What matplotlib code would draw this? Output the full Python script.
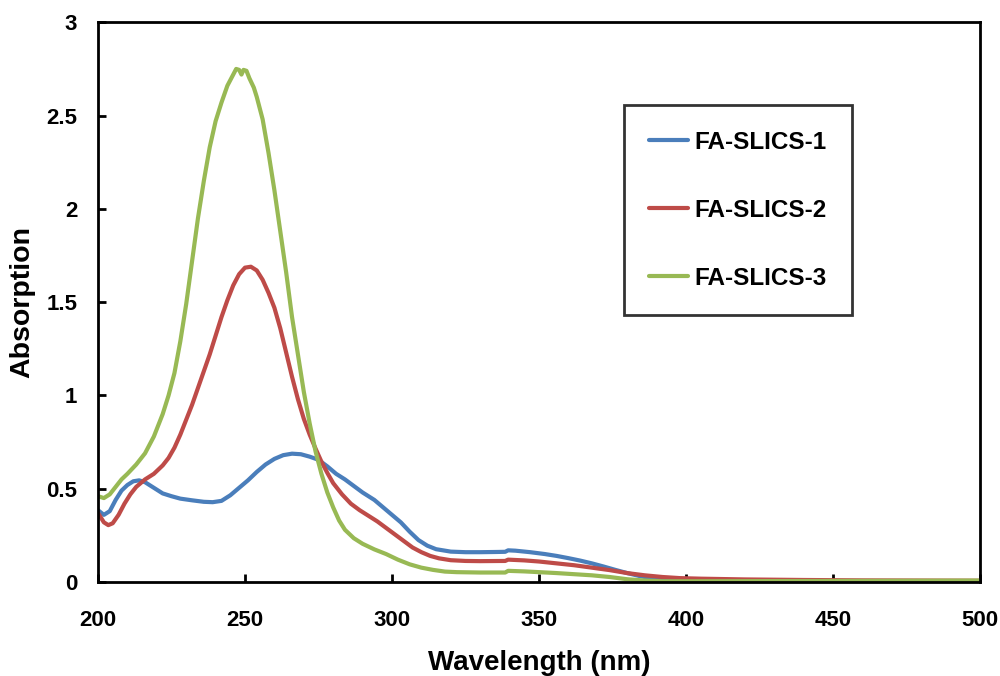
import matplotlib
matplotlib.use("Agg")
import matplotlib.pyplot as plt

plt.rcParams['font.family'] = ['Liberation Sans', 'DejaVu Sans']
plt.rcParams['font.weight'] = 'bold'

# UV-Vis absorption spectra
wl_1 = [200, 202, 204, 206, 208, 210, 212, 214, 216, 218, 220, 222, 225, 228, 232, 236, 239,
        242, 245, 248, 251, 254, 257, 260, 263, 266, 269, 272, 275, 278, 281, 284, 287, 290,
        294, 297, 300, 303, 306, 309, 312, 315, 320, 325, 330, 335, 338.5, 339.5, 342, 347,
        352, 356, 360, 364, 368, 372, 376, 380, 384, 388, 392, 396, 400, 420, 450, 500]
abs_1 = [0.385, 0.36, 0.38, 0.44, 0.49, 0.52, 0.54, 0.545, 0.535, 0.515, 0.495, 0.475, 0.46,
         0.447, 0.438, 0.43, 0.428, 0.435, 0.465, 0.505, 0.545, 0.59, 0.63, 0.66, 0.68, 0.688,
         0.685, 0.672, 0.655, 0.62, 0.58, 0.55, 0.515, 0.48, 0.44, 0.40, 0.36, 0.32, 0.27,
         0.225, 0.195, 0.176, 0.163, 0.16, 0.16, 0.161, 0.162, 0.17, 0.168, 0.16, 0.15, 0.14,
         0.128, 0.115, 0.10, 0.083, 0.065, 0.048, 0.033, 0.02, 0.01, 0.005, 0.003, 0.002,
         0.001, 0.001]

wl_2 = [200, 202, 203.5, 205, 207, 209, 211, 213, 216, 219, 222, 224, 226, 228, 230, 232, 234,
        236, 238, 240, 242, 244, 246, 248, 250, 252, 254, 256, 258, 260, 262, 264, 266, 268,
        270, 272, 274, 276, 278, 280, 283, 286, 289, 292, 295, 298, 301, 304, 307, 310, 313,
        316, 320, 325, 330, 338.5, 339.5, 345, 350, 356, 362, 368, 374, 380, 386, 392, 398,
        405, 420, 440, 460, 480, 500]
abs_2 = [0.37, 0.32, 0.305, 0.315, 0.36, 0.42, 0.47, 0.51, 0.55, 0.58, 0.625, 0.665, 0.72,
         0.79, 0.87, 0.95, 1.04, 1.13, 1.22, 1.32, 1.42, 1.51, 1.59, 1.65, 1.685, 1.69, 1.67,
         1.62, 1.55, 1.47, 1.36, 1.23, 1.10, 0.98, 0.875, 0.79, 0.715, 0.645, 0.585, 0.53,
         0.47, 0.42, 0.385, 0.355, 0.325, 0.29, 0.255, 0.22, 0.185, 0.16, 0.14, 0.127, 0.117,
         0.113, 0.112, 0.113, 0.12, 0.116, 0.11, 0.10, 0.09, 0.077, 0.064, 0.048, 0.036,
         0.027, 0.021, 0.018, 0.014, 0.011, 0.009, 0.008, 0.007]

wl_3 = [200, 202, 204, 206, 208, 210, 213, 216, 219, 222, 224, 226, 228, 230, 232, 234, 236,
        238, 240, 242, 244, 246, 247, 248, 248.8, 249.5, 250.5, 251.5, 253, 254, 256, 258, 260,
        262, 264, 266, 268, 270, 272, 274, 276, 278, 280, 282, 284, 287, 290, 294, 298, 302,
        306, 310, 314, 318, 322, 330, 338.5, 339.5, 345, 350, 356, 362, 368, 374, 380, 386,
        392, 400, 450, 500]
abs_3 = [0.46, 0.45, 0.47, 0.51, 0.55, 0.58, 0.63, 0.69, 0.78, 0.90, 1.0, 1.12, 1.29, 1.49,
         1.72, 1.95, 2.15, 2.33, 2.47, 2.57, 2.66, 2.72, 2.75, 2.745, 2.72, 2.745, 2.74, 2.70,
         2.65, 2.60, 2.48, 2.30, 2.10, 1.88, 1.66, 1.42, 1.22, 1.02, 0.85, 0.70, 0.58, 0.48,
         0.40, 0.33, 0.28, 0.235, 0.205, 0.175, 0.15, 0.12, 0.095, 0.077, 0.065, 0.056, 0.053,
         0.051, 0.051, 0.06, 0.057, 0.053, 0.048, 0.042, 0.036, 0.027, 0.015, 0.008, 0.004,
         0.004, 0.006, 0.008]

labels = ['FA-SLICS-1', 'FA-SLICS-2', 'FA-SLICS-3']
colors = ['#4A7EBB', '#BE4B48', '#98B954']
x_ticks = [200, 250, 300, 350, 400, 450, 500]
y_ticks = [0, 0.5, 1, 1.5, 2, 2.5, 3]
y_tick_labels = ['0', '0.5', '1', '1.5', '2', '2.5', '3']

fig = plt.figure(figsize=(10, 6.76), dpi=100)
ax = fig.add_axes([0.098, 0.139, 0.882, 0.828])

for wl, ab, lab, col in zip([wl_1, wl_2, wl_3], [abs_1, abs_2, abs_3], labels, colors):
    ax.plot(wl, ab, color=col, lw=3.0, label=lab, solid_joinstyle='round',
            solid_capstyle='round')

ax.set_xlim(200, 500)
ax.set_ylim(0, 3)
ax.set_xticks(x_ticks)
ax.set_yticks(y_ticks)
ax.set_yticklabels(y_tick_labels)

for side in ['left', 'right', 'top', 'bottom']:
    ax.spines[side].set_linewidth(2.0)
    ax.spines[side].set_color('black')

ax.tick_params(axis='both', direction='in', length=6, width=2, labelsize=16)
ax.tick_params(axis='x', pad=20)
ax.tick_params(axis='y', pad=15)
for lbl in ax.get_xticklabels() + ax.get_yticklabels():
    lbl.set_fontweight('bold')

ax.set_xlabel('Wavelength (nm)', fontsize=20, fontweight='bold', labelpad=14)
ax.set_ylabel('Absorption', fontsize=20.5, fontweight='bold', labelpad=8)

leg = ax.legend(loc='upper left', bbox_to_anchor=(0.596, 0.852), frameon=True,
                fancybox=False, prop={'size': 17.5, 'weight': 'bold'},
                handlelength=1.6, handletextpad=0.25, labelspacing=1.85,
                borderpad=1.05, borderaxespad=0.0)
leg.get_frame().set_edgecolor('black')
leg.get_frame().set_linewidth(2.0)

fig.savefig('out.png', dpi=100, facecolor='white')
